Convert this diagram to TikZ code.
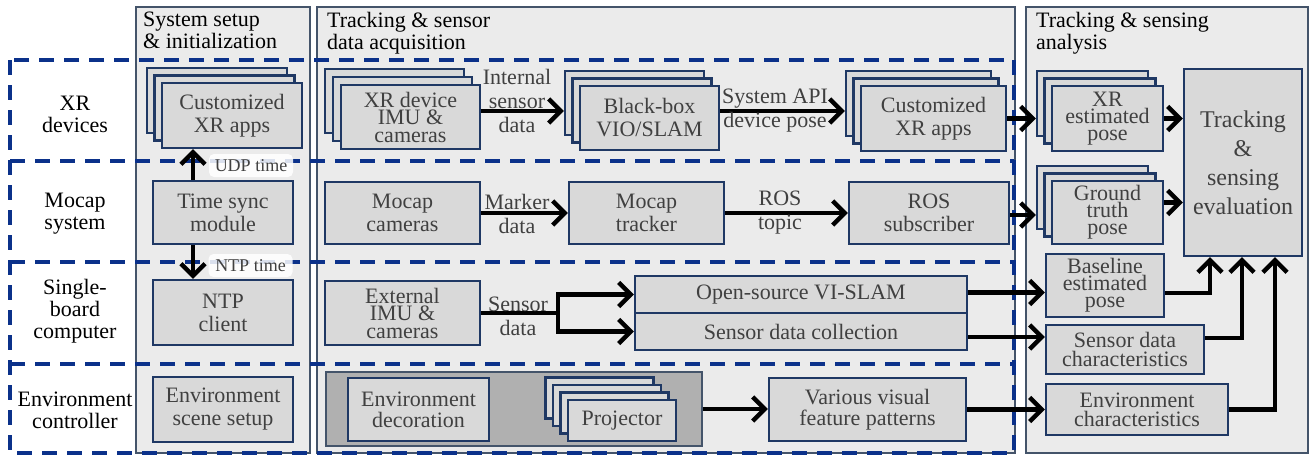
\documentclass[tikz,border=0pt]{standalone}
\usepackage{fontspec}
\setmainfont{LiberationSerif}[Extension=.ttf, UprightFont=*-Regular, BoldFont=*-Bold]
\newfontfamily\tnr{LiberationSerif}[Extension=.ttf, UprightFont=*-Regular, BoldFont=*-Bold]
\usetikzlibrary{arrows.meta,calc}
\definecolor{panelfill}{HTML}{EBEBEB}
\definecolor{panelline}{HTML}{44546A}
\definecolor{boxfill}{HTML}{D9D9D9}
\definecolor{boxline}{HTML}{1F3864}
\definecolor{txt}{HTML}{404040}
\definecolor{dashblue}{HTML}{0B318A}
\definecolor{darkreg}{HTML}{B0B0B0}
\begin{document}
\begin{tikzpicture}[x=1pt,y=-1pt,
  panel/.style={draw=panelline, fill=panelfill, line width=1.2pt},
  box/.style={draw=boxline, fill=boxfill, line width=2.2pt, text=txt, align=center, inner sep=0pt, font=\tnr\fontsize{22}{23}\selectfont},
  sz/.style 2 args={minimum width=#1, minimum height=#2},
  tight/.style={font=\tnr\fontsize{22}{17.5}\selectfont},
  mid/.style={font=\tnr\fontsize{22}{19}\selectfont},
  title/.style={text=black, align=left, inner sep=0pt, font=\tnr\fontsize{22}{22}\selectfont},
  rowlbl/.style={text=black, align=center, inner sep=0pt, font=\tnr\fontsize{22}{22}\selectfont},
  alabel/.style={text=txt, align=center, inner sep=0pt, font=\tnr\fontsize{22}{24}\selectfont},
  tlabel/.style={fill=white, fill opacity=0.85, text opacity=1, rounded corners=5pt, text=txt, inner sep=0pt, minimum width=84, minimum height=23, font=\tnr\fontsize{18}{20}\selectfont},
  dashline/.style={draw=dashblue, line width=4pt, dash pattern=on 15pt off 10pt},
  arr/.style={draw=black, line width=4.5pt, -{Straight Barb[length=12pt,width=24pt]}}
]
\useasboundingbox (0,0) rectangle (1312,456);
% panels
\path[panel] (136,7) rectangle (310,453);
\path[panel] (317,7) rectangle (1015,453);
\path[panel] (1026,7) rectangle (1308,453);
\node[title, anchor=north west] (t1) at (143,12) {System setup\\\& initialization};
\node[title, anchor=north west] (t2) at (327,12) {Tracking \& sensor\\data acquisition};
\node[title, anchor=north west] (t3) at (1036,12) {Tracking \& sensing\\analysis};
% dashed rows
\draw[dashline] (10,60) rectangle (1014,453);
\draw[dashline] (10,161) -- (1014,161);
\draw[dashline] (10,262) -- (1014,262);
\draw[dashline] (10,364) -- (1014,364);
% row labels
\node[rowlbl] (r1) at (75,114) {XR\\devices};
\node[rowlbl] (r2) at (75,214) {Mocap\\system};
\node[rowlbl] (r3) at (75,311) {Single-\\board\\computer};
\node[rowlbl] (r4) at (75,410) {Environment\\controller};
% row 1
\node[box, sz={140}{65}] (xra1c) at (217,100.5) {};
\node[box, sz={140}{65}] (xra1b) at (224.5,108) {};
\node[box, sz={140}{65}] (xra1) at (232,115.5) {Customized\\XR apps};
\node[box, sz={139}{64}] (xrdc) at (394.5,101) {};
\node[box, sz={139}{64}] (xrdb) at (402.5,109) {};
\node[box, sz={139}{64}, tight] (xrd) at (410.5,117) {XR device\\IMU \&\\cameras};
\node[box, sz={139}{64}] (bbc) at (634.5,103) {};
\node[box, sz={139}{64}] (bbb) at (642,110.5) {};
\node[box, sz={139}{64}] (bb) at (649.5,118) {Black-box\\VIO/SLAM};
\node[box, sz={145}{65}] (xra2c) at (918.5,103.5) {};
\node[box, sz={145}{65}] (xra2b) at (926,111) {};
\node[box, sz={145}{65}] (xra2) at (933.5,118.5) {Customized\\XR apps};
\node[box, sz={111}{65}] (xrec) at (1092.5,103.5) {};
\node[box, sz={111}{65}] (xreb) at (1100,111) {};
\node[box, sz={111}{65}, font=\tnr\fontsize{22}{17}\selectfont] (xre) at (1107.5,118.5) {XR\\estimated\\pose};
\node[box, sz={118}{187}, font=\tnr\fontsize{24}{29}\selectfont] (ev) at (1243,162.5) {Tracking\\\&\\sensing\\evaluation};
% row 2
\node[box, sz={140}{63}] (ts) at (223,212.5) {Time sync\\module};
\node[box, sz={155}{62}] (mc) at (402.5,213) {Mocap\\cameras};
\node[box, sz={155}{62}] (mt) at (646.5,213) {Mocap\\tracker};
\node[box, sz={160}{62}] (ros) at (929,213) {ROS\\subscriber};
\node[box, sz={111}{63}] (gtc) at (1092.5,197.5) {};
\node[box, sz={111}{63}] (gtb) at (1100,205) {};
\node[box, sz={111}{63}, font=\tnr\fontsize{22}{17}\selectfont] (gt) at (1107.5,212.5) {Ground\\truth\\pose};
% row 3
\node[box, sz={140}{65}] (ntp) at (223,312.5) {NTP\\client};
\node[box, sz={155}{64}, tight] (ext) at (402.5,313) {External\\IMU \&\\cameras};
\node[box, sz={332}{37}] (os) at (801,294.5) {Open-source VI-SLAM};
\node[box, sz={332}{37}] (sdc) at (801,331.5) {Sensor data collection};
\node[box, sz={118}{63}, font=\tnr\fontsize{22}{17}\selectfont] (bl) at (1105,285.5) {Baseline\\estimated\\pose};
\node[box, sz={158}{49}, mid] (sdch) at (1125,349.5) {Sensor data\\characteristics};
% row 4
\node[box, sz={140}{65}] (ess) at (223,409.5) {Environment\\scene setup};
\node[draw=panelline, fill=darkreg, line width=1.2pt, minimum width=376, minimum height=74, inner sep=0pt] (dark) at (514,409) {};
\node[box, sz={141}{63}, font=\tnr\fontsize{22}{21}\selectfont] (ed) at (418.5,409.5) {Environment\\decoration};
\node[box, sz={108}{41}] (prd) at (599.5,398) {};
\node[box, sz={108}{41}] (prc) at (607,405.5) {};
\node[box, sz={108}{41}] (prb) at (614.5,413) {};
\node[box, sz={108}{41}] (pr) at (622,420.5) {Projector};
\node[box, sz={197}{63}, font=\tnr\fontsize{22}{21}\selectfont] (vv) at (867.5,409.5) {Various visual\\feature patterns};
\node[box, sz={182}{51}, mid] (ec) at (1137,409.5) {Environment\\characteristics};
% arrows
\draw[arr] ([xshift=-30pt]ts.north) -- ([xshift=-30pt]ts.north |- xra1.south);
\draw[arr] ([xshift=-30pt]ts.south) -- ([xshift=-30pt]ts.south |- ntp.north);
\node[tlabel] (udp) at (251,165.5) {UDP time};
\node[tlabel] (ntpl) at (250.5,265.5) {NTP time};
\draw[arr] ([yshift=6pt]xrd.east) -- ([yshift=6pt]xrd.east -| bbc.west);
\draw[arr] ([yshift=7pt]bb.east) -- ([yshift=7pt]bb.east -| xra2c.west);
\draw[arr] (xra2.east) -- (xra2.east -| xrec.west);
\draw[arr] (mc.east) -- (mt.west);
\draw[arr] (mt.east) -- (ros.west);
\draw[arr] ([yshift=-2pt]ros.east) -- ([yshift=-2pt]ros.east -| gtc.west);
\coordinate (split) at (558,313);
\draw[line width=4.5pt] (ext.east) -- (split);
\draw[arr] (split) |- (os.west);
\draw[arr] (split) |- (sdc.west);
\draw[arr] ([yshift=2pt]os.east) -- ([yshift=2pt]os.east -| bl.west);
\draw[arr] ([yshift=-5.5pt]sdc.east) -- ([yshift=-5.5pt]sdc.east -| sdch.west);
\draw[arr] (dark.east) -- (dark.east -| vv.west);
\draw[arr] (vv.east) -- (vv.east -| ec.west);
\draw[arr] (xre.east) -- (xre.east -| ev.west);
\draw[arr] ([yshift=10pt]gt.east) -- ([yshift=10pt]gt.east -| ev.west);
\draw[arr] ([yshift=-7.5pt]bl.east) -| ([xshift=-33pt]ev.south);
\draw[arr] ([yshift=11.5pt]sdch.east) -| ([xshift=-1pt]ev.south);
\draw[arr] (ec.east) -| ([xshift=32pt]ev.south);
% arrow labels
\node[alabel] (l1) at (517,101) {Internal\\sensor\\data};
\node[alabel] (l2) at (775,111) {System API\\device pose};
\node[alabel] (l3) at (517,214) {Marker\\data};
\node[alabel] (l4) at (780,213) {ROS\\topic};
\node[alabel] (l5) at (518,316) {Sensor\\data};
\end{tikzpicture}
\end{document}
